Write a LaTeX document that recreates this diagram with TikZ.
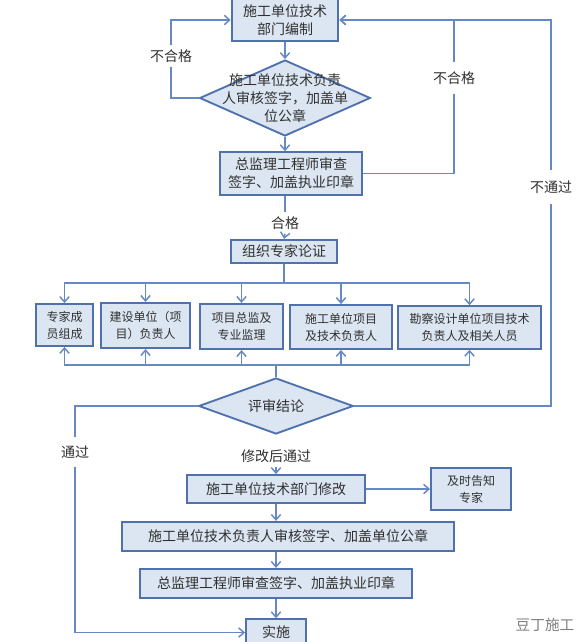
\documentclass[tikz,border=0pt]{standalone}
\usepackage{fontspec}
\newfontfamily\cjk{Noto Sans CJK SC}
\usetikzlibrary{shapes.geometric,arrows.meta}
\definecolor{boxfill}{HTML}{DCE6F2}
\definecolor{boxline}{HTML}{4F72AE}
\definecolor{flowline}{HTML}{6688C4}
\definecolor{txt}{HTML}{303030}

\begin{document}
\begin{tikzpicture}[x=0.75pt, y=-0.75pt,
    box/.style={draw=boxline, fill=boxfill, line width=1.4pt, align=center, inner sep=0pt, text=txt, font=\cjk\fontsize{10.5}{13.5}\selectfont},
    smallbox/.style={box, font=\cjk\fontsize{9}{12.75}\selectfont},
    decision/.style={diamond, draw=boxline, fill=boxfill, line width=1.4pt, inner sep=0pt},
    lab/.style={text=txt, align=center, inner xsep=2pt, font=\cjk\fontsize{10.5}{13.5}\selectfont},
    flow/.style={draw=flowline, line width=1.1pt},
    arr/.style={flow, -{Straight Barb[length=4pt, width=7pt]}}]

    \useasboundingbox[fill=white] (0,0) rectangle (588,642);

    % upper part
    \node[box, minimum width=80pt, minimum height=31.5pt] (b1) at (285,20) {施工单位技术\\部门编制};
    \node[decision, minimum width=128pt, minimum height=57pt] (d1) at (285,98) {};
    \node[lab] (d1text) at (d1) {施工单位技术负责\\人审核签字，加盖单\\位公章};
    \node[box, minimum width=106.5pt, minimum height=32pt] (b2) at (291,173.5) {总监理工程师审查\\签字、加盖执业印章};
    \node[lab, inner ysep=3pt] (hg) at (285,223) {合格};
    \node[box, minimum width=80pt, minimum height=17.5pt] (b3) at (284,251.5) {组织专家论证};

    \node[lab, inner ysep=3.5pt] (ng1) at (171,56) {不合格};
    \node[lab, inner ysep=7pt] (ng2) at (454,78) {不合格};
    \node[lab, inner ysep=8pt] (btg) at (551,187) {不通过};

    % experts
    \node[smallbox, minimum width=43pt, minimum height=31.5pt] (pA) at (64.5,325) {专家成\\员组成};
    \node[smallbox, minimum width=67pt, minimum height=34pt] (pB) at (145.5,325.5) {建设单位（项\\目）负责人};
    \node[smallbox, minimum width=62pt, minimum height=34pt] (pC) at (241.5,326.5) {项目总监及\\专业监理};
    \node[smallbox, minimum width=76.5pt, minimum height=33pt] (pD) at (341,327) {施工单位项目\\及技术负责人};
    \node[smallbox, minimum width=107pt, minimum height=32pt] (pE) at (469.5,327.5) {勘察设计单位项目技术\\负责人及相关人员};
    \coordinate (bustop) at (284,283);
    \coordinate (busbot) at (276,365);

    % lower part
    \node[decision, minimum width=116pt, minimum height=42pt] (d2) at (276,406) {};
    \node[lab] (d2text) at (d2) {评审结论};
    \node[lab, inner ysep=6pt] (tg) at (75,452) {通过};
    \node[lab, inner ysep=3pt] (xg) at (276,456) {修改后通过};
    \node[box, minimum width=133pt, minimum height=21pt] (b4) at (276,489) {施工单位技术部门修改};
    \node[smallbox, minimum width=60pt, minimum height=31pt] (b5) at (471,489) {及时告知\\专家};
    \node[box, minimum width=249pt, minimum height=22pt] (b6) at (288,536.5) {施工单位技术负责人审核签字、加盖单位公章};
    \node[box, minimum width=204pt, minimum height=22pt] (b7) at (276,583.5) {总监理工程师审查签字、加盖执业印章};
    \node[box, minimum width=45pt, minimum height=20pt] (b8) at (276,632.5) {实施};

    \node[text=gray, font=\cjk\fontsize{11}{13}\selectfont] (mark) at (545,625) {豆丁施工};

    % connectors
    \draw[arr] (b1.south) -- (d1.north);
    \draw[arr] (d1.south) -- (d1.south |- b2.north);
    \draw[flow] (b2.south -| hg) -- (hg.north);
    \draw[arr] (hg.south) -- (b3.north);

    \draw[flow] (d1.west) -| (ng1.south);
    \draw[arr] (ng1.north) |- (b1.west);
    \draw[flow] (b2.east) -| (ng2.south);
    \draw[arr] (ng2.north) |- (b1.east);
    \draw[flow] (d2.east) -| (btg.south);
    \draw[arr] (btg.north) |- (b1.east);

    \draw[flow] (b3.south) -- (bustop);
    \foreach \p in {pA,pB,pC,pD,pE}
        \draw[arr] (bustop) -| (\p.north);
    \foreach \p in {pA,pB,pC,pD,pE}
        \draw[arr] (busbot) -| (\p.south);
    \draw[flow] (busbot) -- (d2.north);

    \draw[flow] (d2.west) -| (tg.north);
    \draw[arr] (tg.south) |- (b8.west);
    \draw[arr] (xg.south) -- (b4.north);
    \draw[arr] (b4.east) -- (b5.west);
    \draw[arr] (b4.south) -- (b4.south |- b6.north);
    \draw[arr] (b4.south |- b6.south) -- (b7.north);
    \draw[arr] (b7.south) -- (b8.north);
\end{tikzpicture}
\end{document}
